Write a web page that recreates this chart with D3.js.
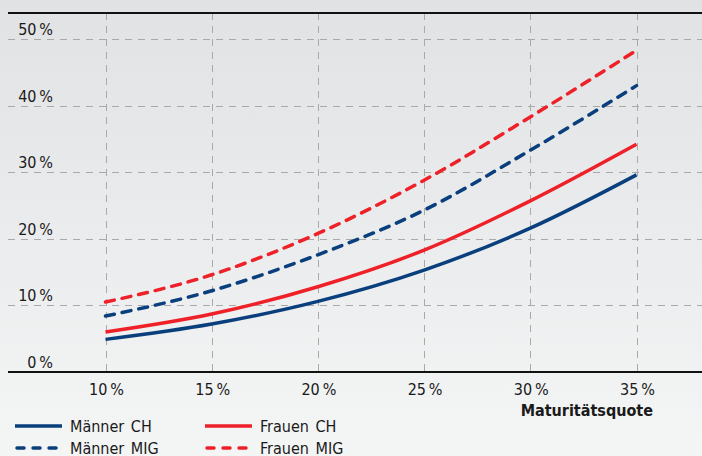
<!DOCTYPE html>
<html><head><meta charset="utf-8">
<script src="https://cdn.jsdelivr.net/npm/d3@7"></script>
<style>
html,body{margin:0;padding:0;}
svg{display:block;}
text{font-family:"DejaVu Sans Condensed","DejaVu Sans",sans-serif;fill:#1a1a1a;}
</style></head>
<body>
<svg id="chart" width="702" height="456"></svg>
<script>
const quotes = [10, 15, 20, 25, 30, 35];
const maennerCH  = [4.9, 7.2, 10.6, 15.3, 21.6, 29.6];
const frauenCH   = [6.0, 8.7, 12.8, 18.3, 25.7, 34.2];
const maennerMIG = [8.4, 12.2, 17.6, 24.3, 33.3, 43.0];
const frauenMIG  = [10.5, 14.6, 20.8, 28.8, 38.3, 48.3];
const yTicks = [0, 10, 20, 30, 40, 50];
const xTicks = [10, 15, 20, 25, 30, 35];
const seriesNames = ["Männer CH", "Frauen CH", "Männer MIG", "Frauen MIG"];
const xTitle = "Maturitätsquote";

const navy = "#0a3f7d", red = "#ee2028";
const series = [
  {name: seriesNames[0], values: maennerCH, color: navy, dash: null},
  {name: seriesNames[1], values: frauenCH, color: red, dash: null},
  {name: seriesNames[2], values: maennerMIG, color: navy, dash: "9,8"},
  {name: seriesNames[3], values: frauenMIG, color: red, dash: "9,8"}
];

const svg = d3.select("#chart");
const W = 702, H = 456;
const defs = svg.append("defs");
const grad = defs.append("linearGradient").attr("id","bg").attr("x1",0).attr("y1",0).attr("x2",0).attr("y2",1);
grad.append("stop").attr("offset","0%").attr("stop-color","#e1e2e4");
grad.append("stop").attr("offset","100%").attr("stop-color","#f4f5f5");
svg.append("rect").attr("width",W).attr("height",H).attr("fill","url(#bg)");

const mLeft = 8, mRight = 702, mTop = 13, mBottom = 372;
const x = d3.scaleLinear().domain([10, 35]).range([105.5, 636.5]);
const y = d3.scaleLinear().domain([0, 50]).range([mBottom, 39]);

// horizontal gridlines
svg.append("g").selectAll("line").data(yTicks.filter(d => d > 0)).join("line")
  .attr("x1", mLeft).attr("x2", mRight)
  .attr("y1", d => Math.round(y(d)) + 0.5).attr("y2", d => Math.round(y(d)) + 0.5)
  .attr("stroke", "#a9a9a9").attr("stroke-width", 1).attr("stroke-dasharray", "7,6");

// vertical gridlines
svg.append("g").selectAll("line").data(xTicks).join("line")
  .attr("x1", d => Math.round(x(d)) + 0.5).attr("x2", d => Math.round(x(d)) + 0.5)
  .attr("y1", mTop).attr("y2", mBottom)
  .attr("stroke", "#a9a9a9").attr("stroke-width", 1).attr("stroke-dasharray", "7,6");

// top and bottom lines
svg.append("line").attr("x1", mLeft).attr("x2", mRight).attr("y1", 13).attr("y2", 13)
  .attr("stroke", "#111").attr("stroke-width", 2);
svg.append("line").attr("x1", mLeft).attr("x2", mRight).attr("y1", mBottom).attr("y2", mBottom)
  .attr("stroke", "#111").attr("stroke-width", 2);

// y labels
svg.append("g").selectAll("text").data(yTicks).join("text")
  .attr("x", 53).attr("y", d => y(d) - 4)
  .attr("text-anchor", "end").attr("font-size", 16)
  .text(d => d + "\u2009%");

// x labels
svg.append("g").selectAll("text").data(xTicks).join("text")
  .attr("x", d => x(d) + 1).attr("y", 395)
  .attr("text-anchor", "middle").attr("font-size", 16)
  .text(d => d + "\u2009%");

svg.append("text").attr("x", 653).attr("y", 416).attr("text-anchor", "end")
  .attr("font-size", 16).attr("font-weight", "bold").text(xTitle);

// lines
const line = d3.line().x((d, i) => x(quotes[i])).y(d => y(d)).curve(d3.curveMonotoneX);
svg.append("g").selectAll("path").data(series).join("path")
  .attr("d", d => line(d.values))
  .attr("fill", "none").attr("stroke", d => d.color).attr("stroke-width", 3.5)
  .attr("stroke-linecap", d => d.dash ? "round" : "butt")
  .attr("stroke-dasharray", d => d.dash);

// legend
const legPos = [[15, 426], [205, 426], [15, 448], [205, 448]];
const leg = svg.append("g").selectAll("g").data(series).join("g")
  .attr("transform", (d, i) => `translate(${legPos[i][0]},${legPos[i][1]})`);
leg.append("line").attr("x1", d => d.dash ? 2 : 0).attr("x2", 47).attr("y1", 0).attr("y2", 0)
  .attr("stroke", d => d.color).attr("stroke-width", 3.5)
  .attr("stroke-linecap", d => d.dash ? "round" : "butt")
  .attr("stroke-dasharray", d => d.dash ? "7,9" : null);
leg.append("text").attr("x", 55).attr("y", 5.5).attr("font-size", 16)
  .attr("word-spacing", 2)
  .text(d => d.name);
</script>
</body></html>
